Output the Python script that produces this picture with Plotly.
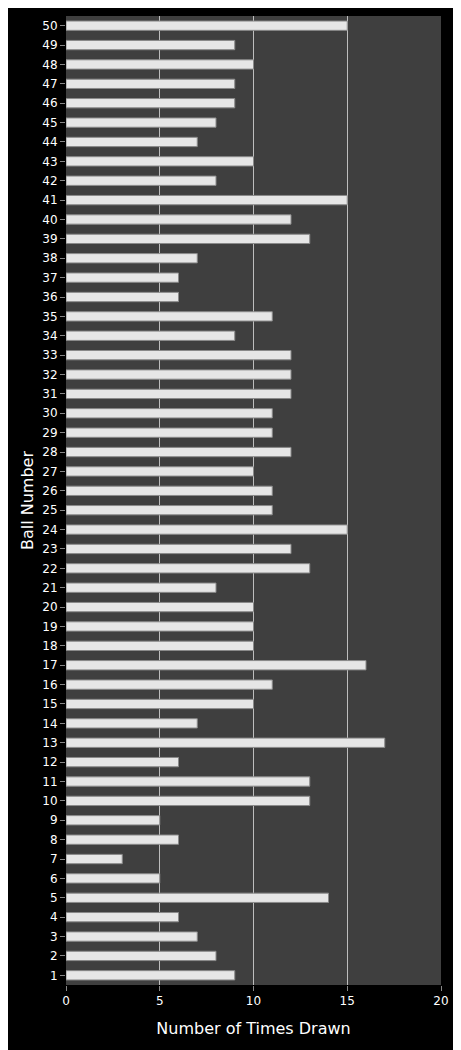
import plotly.graph_objects as go

balls = list(range(1, 51))
counts = [9, 8, 7, 6, 14, 5, 3, 6, 5, 13,
          13, 6, 17, 7, 10, 11, 16, 10, 10, 10,
          8, 13, 12, 15, 11, 11, 10, 12, 11, 11,
          12, 12, 12, 9, 11, 6, 6, 7, 13, 12,
          15, 8, 10, 7, 8, 9, 9, 10, 9, 15]
x_ticks = [0, 5, 10, 15, 20]

fig = go.Figure(go.Bar(
    x=counts, y=balls, orientation="h", width=0.48,
    marker=dict(color="#e6e6e6", line=dict(color="#8a8a8a", width=1)),
))
fig.update_layout(
    width=461, height=1050,
    paper_bgcolor="black", plot_bgcolor="#3f3f3f",
    margin=dict(l=58, r=28, t=8, b=73),
    font=dict(family="DejaVu Sans", color="white", size=12),
    showlegend=False, bargap=0.5,
    xaxis=dict(range=[0, 20], tickvals=x_ticks, showgrid=True, gridcolor="#bdbdbd",
               gridwidth=1, zeroline=False, ticks="outside", tickcolor="#888",
               title=dict(text="Number of Times Drawn", font=dict(size=16)),
               tickfont=dict(size=12)),
    yaxis=dict(range=[0.5, 50.5], tickvals=balls, showgrid=False, zeroline=False,
               ticks="outside", tickcolor="#888",
               title=dict(text="Ball Number", font=dict(size=16), standoff=4),
               tickfont=dict(size=12)),
)
fig.write_html("out.html")
